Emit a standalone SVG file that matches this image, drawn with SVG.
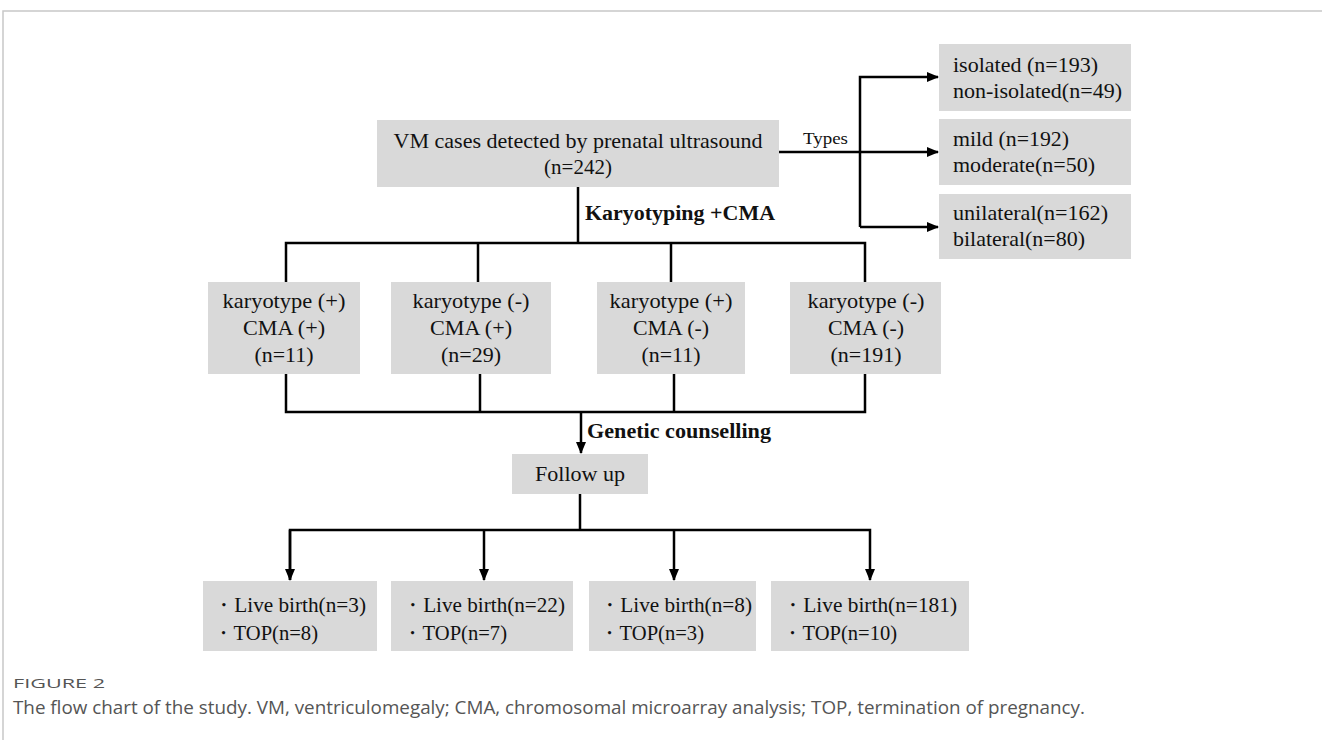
<svg xmlns="http://www.w3.org/2000/svg" width="1322" height="740" viewBox="0 0 1322 740">
<defs>
<style>
.box{fill:#d9d9d9}
.t{font-family:"Liberation Serif","Times New Roman",serif;font-size:21px;fill:#111}
.tc{text-anchor:middle}
.b{font-family:"Liberation Serif","Times New Roman",serif;font-size:20px;font-weight:bold;fill:#111}
.ln{stroke:#000;stroke-width:2.5;fill:none}
.cap{font-family:"Open Sans","Liberation Sans",sans-serif;fill:#555}
</style>
<marker id="ah" markerWidth="12" markerHeight="12" viewBox="0 0 12 12" refX="11" refY="6" orient="auto" markerUnits="userSpaceOnUse">
<path d="M0,1 L12,6 L0,11 Z" fill="#000"/>
</marker>
</defs>
<rect width="1322" height="740" fill="#fff"/>
<path d="M3,740 V11 H1322" fill="none" stroke="#c8c8c8" stroke-width="1.5"/>

<g id="connectors">
<path class="ln" d="M779,152 H938" marker-end="url(#ah)"/>
<path class="ln" d="M860,227 V77 H938" marker-end="url(#ah)"/>
<path class="ln" d="M860,227 H938" marker-end="url(#ah)"/>
<path class="ln" d="M578,187 V243"/>
<path class="ln" d="M286,282 V243 H865 V282"/>
<path class="ln" d="M478,243 V282"/>
<path class="ln" d="M671,243 V282"/>
<path class="ln" d="M286,374 V412 H865 V374"/>
<path class="ln" d="M480,374 V412"/>
<path class="ln" d="M674,374 V412"/>
<path class="ln" d="M581,412 V453" marker-end="url(#ah)"/>
<path class="ln" d="M580,494 V530"/>
<path class="ln" d="M290,580 V530 H870 V580" marker-end="url(#ah)"/>
<path class="ln" d="M290,530 V580" marker-end="url(#ah)"/>
<path class="ln" d="M484,530 V580" marker-end="url(#ah)"/>
<path class="ln" d="M674,530 V580" marker-end="url(#ah)"/>
<text x="803" y="144" class="t" style="font-size:17px" textLength="45" lengthAdjust="spacingAndGlyphs">Types</text>
<text x="585" y="220" class="b" textLength="190" lengthAdjust="spacingAndGlyphs">Karyotyping +CMA</text>
<text x="587" y="438" class="b" textLength="184" lengthAdjust="spacingAndGlyphs">Genetic counselling</text>
</g>

<g id="main">
<rect class="box" x="377" y="120" width="402" height="67"/>
<text x="578" y="148" class="t tc" textLength="369" lengthAdjust="spacingAndGlyphs">VM cases detected by prenatal ultrasound</text>
<text x="578" y="174" class="t tc">(n=242)</text>
</g>

<g id="type1">
<rect class="box" x="939" y="44" width="192" height="67"/>
<text x="953" y="72" class="t" textLength="145" lengthAdjust="spacingAndGlyphs">isolated (n=193)</text>
<text x="953" y="98" class="t" textLength="169" lengthAdjust="spacingAndGlyphs">non-isolated(n=49)</text>
</g>
<g id="type2">
<rect class="box" x="939" y="119" width="192" height="66"/>
<text x="953" y="146" class="t" textLength="116" lengthAdjust="spacingAndGlyphs">mild (n=192)</text>
<text x="953" y="172" class="t" textLength="142" lengthAdjust="spacingAndGlyphs">moderate(n=50)</text>
</g>
<g id="type3">
<rect class="box" x="939" y="194" width="192" height="65"/>
<text x="953" y="220" class="t" textLength="155" lengthAdjust="spacingAndGlyphs">unilateral(n=162)</text>
<text x="953" y="246" class="t" textLength="132" lengthAdjust="spacingAndGlyphs">bilateral(n=80)</text>
</g>

<g id="k1">
<rect class="box" x="208" y="282" width="152" height="92"/>
<text x="284" y="308" class="t tc" textLength="123" lengthAdjust="spacingAndGlyphs">karyotype (+)</text>
<text x="284" y="335" class="t tc" textLength="82" lengthAdjust="spacingAndGlyphs">CMA (+)</text>
<text x="284" y="362" class="t tc" textLength="59" lengthAdjust="spacingAndGlyphs">(n=11)</text>
</g>
<g id="k2">
<rect class="box" x="391" y="282" width="160" height="92"/>
<text x="471" y="308" class="t tc" textLength="117" lengthAdjust="spacingAndGlyphs">karyotype (-)</text>
<text x="471" y="335" class="t tc" textLength="82" lengthAdjust="spacingAndGlyphs">CMA (+)</text>
<text x="471" y="362" class="t tc" textLength="60" lengthAdjust="spacingAndGlyphs">(n=29)</text>
</g>
<g id="k3">
<rect class="box" x="597" y="282" width="148" height="92"/>
<text x="671" y="308" class="t tc" textLength="123" lengthAdjust="spacingAndGlyphs">karyotype (+)</text>
<text x="671" y="335" class="t tc" textLength="76" lengthAdjust="spacingAndGlyphs">CMA (-)</text>
<text x="671" y="362" class="t tc" textLength="59" lengthAdjust="spacingAndGlyphs">(n=11)</text>
</g>
<g id="k4">
<rect class="box" x="790" y="282" width="151" height="92"/>
<text x="866" y="308" class="t tc" textLength="117" lengthAdjust="spacingAndGlyphs">karyotype (-)</text>
<text x="866" y="335" class="t tc" textLength="76" lengthAdjust="spacingAndGlyphs">CMA (-)</text>
<text x="866" y="362" class="t tc" textLength="71" lengthAdjust="spacingAndGlyphs">(n=191)</text>
</g>

<g id="followup">
<rect class="box" x="512" y="454" width="136" height="40"/>
<text x="580" y="481" class="t tc" textLength="90" lengthAdjust="spacingAndGlyphs">Follow up</text>
</g>

<g id="o1">
<rect class="box" x="203" y="581" width="174" height="70"/>
<text x="213" y="612" class="t" textLength="153" lengthAdjust="spacingAndGlyphs">・Live birth(n=3)</text>
<text x="213" y="640" class="t" textLength="105" lengthAdjust="spacingAndGlyphs">・TOP(n=8)</text>
</g>
<g id="o2">
<rect class="box" x="391" y="581" width="182" height="70"/>
<text x="402" y="612" class="t" textLength="163" lengthAdjust="spacingAndGlyphs">・Live birth(n=22)</text>
<text x="402" y="640" class="t" textLength="105" lengthAdjust="spacingAndGlyphs">・TOP(n=7)</text>
</g>
<g id="o3">
<rect class="box" x="589" y="581" width="167" height="70"/>
<text x="599" y="612" class="t" textLength="153" lengthAdjust="spacingAndGlyphs">・Live birth(n=8)</text>
<text x="599" y="640" class="t" textLength="105" lengthAdjust="spacingAndGlyphs">・TOP(n=3)</text>
</g>
<g id="o4">
<rect class="box" x="771" y="581" width="198" height="70"/>
<text x="782" y="612" class="t" textLength="175" lengthAdjust="spacingAndGlyphs">・Live birth(n=181)</text>
<text x="782" y="640" class="t" textLength="115" lengthAdjust="spacingAndGlyphs">・TOP(n=10)</text>
</g>

<text x="13" y="688" class="cap" style="font-size:13px" textLength="92" lengthAdjust="spacingAndGlyphs">FIGURE 2</text>
<text x="13" y="714" class="cap" style="font-size:18px" textLength="1072" lengthAdjust="spacingAndGlyphs">The flow chart of the study. VM, ventriculomegaly; CMA, chromosomal microarray analysis; TOP, termination of pregnancy.</text>
</svg>
